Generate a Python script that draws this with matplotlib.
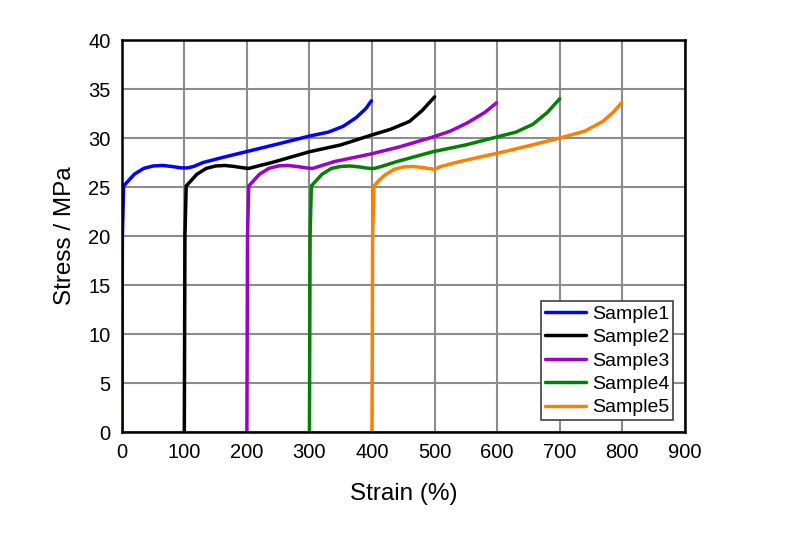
import matplotlib.pyplot as plt

plt.rcParams['font.family'] = ['Liberation Sans', 'DejaVu Sans']

s1_x = [0, 1, 3, 10, 20, 35, 50, 65, 80, 95, 105, 115, 130, 160, 205, 250, 300, 330, 354, 375, 390, 399]
s1_y = [0, 20, 25.1, 25.6, 26.3, 26.9, 27.15, 27.2, 27.1, 26.95, 26.95, 27.1, 27.5, 28.0, 28.7, 29.4, 30.2, 30.6, 31.2, 32.1, 33.0, 33.8]

s2_x = [100, 101, 103, 110, 120, 135, 150, 165, 180, 195, 203, 215, 240, 300, 350, 399, 430, 460, 480, 500]
s2_y = [0, 20, 25.1, 25.6, 26.3, 26.9, 27.15, 27.2, 27.1, 26.95, 26.9, 27.1, 27.5, 28.6, 29.3, 30.3, 30.9, 31.7, 32.8, 34.2]

s3_x = [200, 201, 203, 210, 220, 235, 250, 265, 280, 295, 305, 315, 340, 400, 444, 497, 525, 551, 580, 599]
s3_y = [0, 20, 25.1, 25.6, 26.3, 26.9, 27.15, 27.2, 27.1, 26.95, 26.9, 27.1, 27.6, 28.4, 29.1, 30.1, 30.7, 31.5, 32.6, 33.6]

s4_x = [300, 301, 303, 310, 320, 335, 350, 365, 380, 395, 404, 415, 440, 497, 550, 599, 630, 657, 680, 700]
s4_y = [0, 20, 25.1, 25.6, 26.3, 26.9, 27.1, 27.15, 27.05, 26.9, 26.9, 27.1, 27.6, 28.6, 29.3, 30.1, 30.6, 31.4, 32.6, 34.0]

s5_x = [400, 401, 403, 410, 420, 435, 450, 465, 480, 495, 500, 510, 540, 604, 650, 700, 740, 769, 785, 799]
s5_y = [0, 20, 25.1, 25.6, 26.2, 26.8, 27.05, 27.1, 27.0, 26.85, 26.8, 27.1, 27.6, 28.5, 29.2, 30.0, 30.7, 31.7, 32.6, 33.6]

labels = ['Sample1', 'Sample2', 'Sample3', 'Sample4', 'Sample5']
colors = ['#0000ff', '#000000', '#9900cc', '#008000', '#ff8000']
series = [(s1_x, s1_y), (s2_x, s2_y), (s3_x, s3_y), (s4_x, s4_y), (s5_x, s5_y)]

fig = plt.figure(figsize=(8.01, 5.34), dpi=100)
ax = fig.add_axes([0.152, 0.191, 0.703, 0.734])

for (x, y), lab, c in zip(series, labels, colors):
    ax.plot(x, y, color=c, lw=2.5, label=lab, solid_capstyle='round')

ax.set_xlim(0, 900)
ax.set_ylim(0, 40)
ax.set_xticks(range(0, 901, 100))
ax.set_yticks(range(0, 41, 5))
ax.grid(True, color='#8c8c8c', lw=1.5)
ax.set_axisbelow(True)
for sp in ax.spines.values():
    sp.set_linewidth(1.8)
ax.tick_params(length=0, labelsize=14.5, pad=8)
ax.set_xlabel('Strain (%)', fontsize=17.5, labelpad=15)
ax.set_ylabel('Stress / MPa', fontsize=17.5, labelpad=9)

leg = ax.legend(loc='lower right', fontsize=14, fancybox=False, framealpha=1,
                edgecolor='#404040', borderpad=0.2, labelspacing=0.3,
                handlelength=2.1, handletextpad=0.3, borderaxespad=0.6)
leg.get_frame().set_linewidth(1.2)

fig.savefig('out.png', dpi=100)
